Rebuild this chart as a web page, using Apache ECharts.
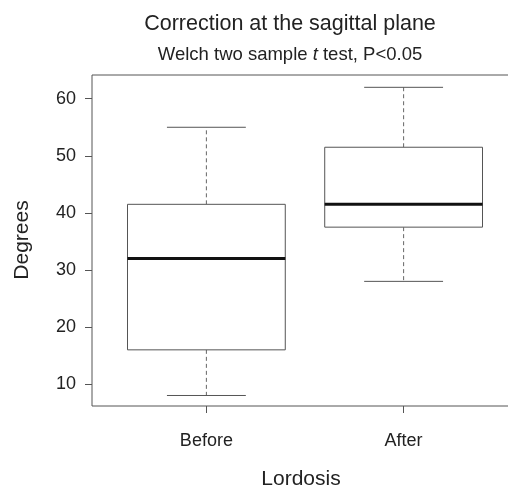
<!DOCTYPE html>
<html><head><meta charset="utf-8">
<script src="https://cdn.jsdelivr.net/npm/echarts@6/dist/echarts.min.js"></script>
<style>html,body{margin:0;padding:0;background:#fff}#c{width:508px;height:490px}</style>
</head><body><div id="c"></div>
<script>
const categories = ['Before', 'After'];
const whiskerLow = [8, 28];
const q1 = [16, 37.5];
const medians = [32, 41.5];
const q3 = [41.5, 51.5];
const whiskerHigh = [55, 62];
const yTicks = [10, 20, 30, 40, 50, 60];

const data = categories.map((c, i) => [i + 1, whiskerLow[i], q1[i], medians[i], q3[i], whiskerHigh[i]]);

const chart = echarts.init(document.getElementById('c'));
const font = '"Liberation Sans", Arial, sans-serif';
const txt = '#222';
chart.setOption({
  animation: false,
  grid: { left: 92, top: 75, width: 426, height: 331, show: true, borderColor: '#555', borderWidth: 1,
    backgroundColor: 'transparent', outerBoundsMode: 'none', containLabel: false },
  xAxis: {
    type: 'value', min: 0.42, max: 2.58,
    axisLine: { show: false }, splitLine: { show: false },
    axisTick: { show: true, length: 7, lineStyle: { color: '#555' }, customValues: [1, 2] },
    axisLabel: { customValues: [1, 2], margin: 26, fontFamily: font, fontSize: 18, color: txt,
      formatter: v => categories[Math.round(v) - 1] }
  },
  yAxis: {
    type: 'value', min: 6.16, max: 64.16,
    axisLine: { show: false }, splitLine: { show: false },
    axisTick: { show: true, length: 7, lineStyle: { color: '#555' }, customValues: yTicks },
    axisLabel: { customValues: yTicks, margin: 16, fontFamily: font, fontSize: 18, color: txt }
  },
  graphic: [
    { type: 'text', x: 290, y: 24,
      style: { text: 'Correction at the sagittal plane', fontFamily: font, fontSize: 21.5, fill: txt, textAlign: 'center', textVerticalAlign: 'middle' } },
    { type: 'text', x: 290, y: 55,
      style: { text: '{n|Welch two sample }{i|t}{n| test, P<0.05}', fontFamily: font, fontSize: 18.5, fill: txt, textAlign: 'center', textVerticalAlign: 'middle',
        rich: { n: { fontFamily: font, fontSize: 18.5, fill: txt }, i: { fontFamily: font, fontSize: 18.5, fill: txt, fontStyle: 'italic' } } } },
    { type: 'text', x: 301, y: 479,
      style: { text: 'Lordosis', fontFamily: font, fontSize: 21, fill: txt, textAlign: 'center', textVerticalAlign: 'middle' } },
    { type: 'text', x: 22, y: 240, rotation: Math.PI / 2,
      style: { text: 'Degrees', fontFamily: font, fontSize: 21, fill: txt, textAlign: 'center', textVerticalAlign: 'middle' } }
  ],
  series: [{
    type: 'custom',
    data: data,
    encode: { x: 0, y: [1, 2, 3, 4, 5] },
    renderItem: function (params, api) {
      const x = api.value(0);
      const lo = api.coord([x, api.value(1)]);
      const a = api.coord([x, api.value(2)]);
      const m = api.coord([x, api.value(3)]);
      const b = api.coord([x, api.value(4)]);
      const hi = api.coord([x, api.value(5)]);
      const L = api.coord([x - 0.4, 0])[0], R = api.coord([x + 0.4, 0])[0];
      const cL = api.coord([x - 0.2, 0])[0], cR = api.coord([x + 0.2, 0])[0];
      const cx = lo[0];
      const dash = { stroke: '#666', lineWidth: 1, lineDash: [4, 3] };
      const solid = { stroke: '#555', lineWidth: 1 };
      return { type: 'group', children: [
        { type: 'line', shape: { x1: cx, y1: b[1], x2: cx, y2: hi[1] }, style: dash },
        { type: 'line', shape: { x1: cx, y1: a[1], x2: cx, y2: lo[1] }, style: dash },
        { type: 'line', shape: { x1: cL, y1: hi[1], x2: cR, y2: hi[1] }, style: solid },
        { type: 'line', shape: { x1: cL, y1: lo[1], x2: cR, y2: lo[1] }, style: solid },
        { type: 'rect', shape: { x: L, y: b[1], width: R - L, height: a[1] - b[1] }, style: { fill: '#fff', stroke: '#555', lineWidth: 1 } },
        { type: 'line', shape: { x1: L, y1: m[1], x2: R, y2: m[1] }, style: { stroke: '#111', lineWidth: 3 } }
      ]};
    }
  }]
});
</script></body></html>
